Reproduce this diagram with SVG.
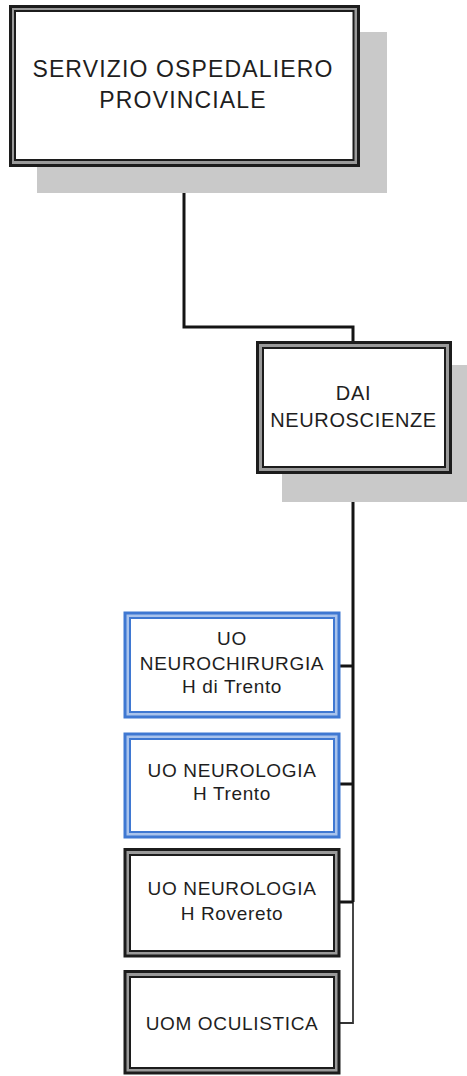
<svg xmlns="http://www.w3.org/2000/svg" width="467" height="1076" viewBox="0 0 467 1076">
<style>
.shadow{fill:#c9c9c9;stroke:none}
.outer{fill:#9a9a9a;stroke:#1c1c1c;stroke-width:3}
.inner{fill:#ffffff;stroke:#1c1c1c;stroke-width:2}
.bouter{fill:#a9c3ec;stroke:#3f78d2;stroke-width:3}
.binner{fill:#ffffff;stroke:#3f78d2;stroke-width:2}
.conn{fill:none;stroke:#141414;stroke-width:3}
.connthin{fill:none;stroke:#333;stroke-width:1.8}
text{font-family:"Liberation Sans",Arial,sans-serif;fill:#1e1e1e;text-anchor:middle}
.t1{font-size:23px;letter-spacing:1.15px}
.t2{font-size:20px;letter-spacing:0.65px}
.t3{font-size:19px;letter-spacing:0.65px}
</style>
<rect width="467" height="1076" fill="#ffffff"/>
<g id="connectors">
<path class="conn" d="M184,166 V327 H353 V342"/>
<path class="conn" d="M353,473 V902"/>
<path class="connthin" d="M353,902 V1023 H339"/>
<path class="conn" d="M339,666 H353"/>
<path class="conn" d="M339,784 H353"/>
<path class="conn" d="M339,902 H353"/>
</g>
<g id="node-servizio">
<rect class="shadow" x="37" y="32" width="350" height="161"/>
<rect class="outer" x="10.5" y="6.5" width="348" height="159"/>
<rect class="inner" x="15" y="11" width="338.5" height="149"/>
<text class="t1" x="183" y="77">SERVIZIO OSPEDALIERO</text>
<text class="t1" x="183" y="108">PROVINCIALE</text>
</g>
<g id="node-dai">
<rect class="shadow" x="282" y="365" width="190" height="137"/>
<rect class="outer" x="257.5" y="342.5" width="193" height="130"/>
<rect class="inner" x="263" y="348" width="182" height="119"/>
<text class="t2" x="353.5" y="400">DAI</text>
<text class="t2" x="353.5" y="427">NEUROSCIENZE</text>
</g>
<g id="node-neurochirurgia">
<rect class="bouter" x="125" y="613" width="214" height="104"/>
<rect class="binner" x="130" y="618" width="204" height="94"/>
<text class="t3" x="232" y="645">UO</text>
<text class="t3" x="232" y="670">NEUROCHIRURGIA</text>
<text class="t3" x="232" y="693">H di Trento</text>
</g>
<g id="node-neurologia-trento">
<rect class="bouter" x="125" y="734" width="214" height="103"/>
<rect class="binner" x="130" y="739" width="204" height="93"/>
<text class="t3" x="232" y="777">UO NEUROLOGIA</text>
<text class="t3" x="232" y="800">H Trento</text>
</g>
<g id="node-neurologia-rovereto">
<rect class="outer" x="125" y="849.5" width="214" height="106.5"/>
<rect class="inner" x="130" y="855" width="204" height="96"/>
<text class="t3" x="232" y="895">UO NEUROLOGIA</text>
<text class="t3" x="232" y="920">H Rovereto</text>
</g>
<g id="node-oculistica">
<rect class="outer" x="125" y="971.5" width="214" height="101.5"/>
<rect class="inner" x="130" y="977" width="204" height="91"/>
<text class="t3" x="232" y="1030">UOM OCULISTICA</text>
</g>
</svg>
